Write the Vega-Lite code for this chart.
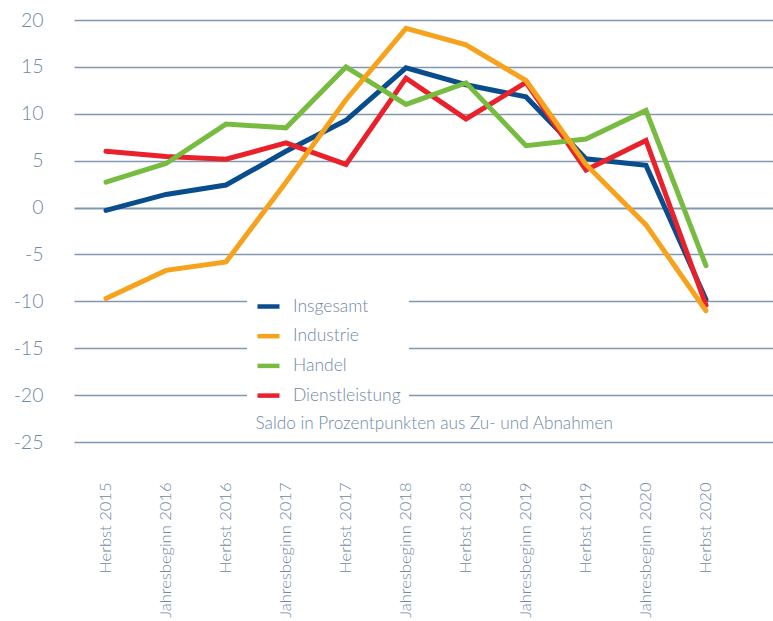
{
  "$schema": "https://vega.github.io/schema/vega-lite/v6.json",
  "width": 699,
  "height": 422,
  "autosize": {"type": "none"},
  "padding": {"left": 74, "top": 20, "right": 0, "bottom": 179},
  "background": "white",
  "config": {
    "font": "Lato",
    "view": {"stroke": null}
  },
  "data": {
    "values": [
      {"t": "Herbst 2015", "s": "Insgesamt", "v": -0.3},
      {"t": "Jahresbeginn 2016", "s": "Insgesamt", "v": 1.4},
      {"t": "Herbst 2016", "s": "Insgesamt", "v": 2.4},
      {"t": "Jahresbeginn 2017", "s": "Insgesamt", "v": 6.0},
      {"t": "Herbst 2017", "s": "Insgesamt", "v": 9.3},
      {"t": "Jahresbeginn 2018", "s": "Insgesamt", "v": 14.9},
      {"t": "Herbst 2018", "s": "Insgesamt", "v": 13.1},
      {"t": "Jahresbeginn 2019", "s": "Insgesamt", "v": 11.8},
      {"t": "Herbst 2019", "s": "Insgesamt", "v": 5.2},
      {"t": "Jahresbeginn 2020", "s": "Insgesamt", "v": 4.5},
      {"t": "Herbst 2020", "s": "Insgesamt", "v": -9.8},
      {"t": "Herbst 2015", "s": "Dienstleistung", "v": 6.0},
      {"t": "Jahresbeginn 2016", "s": "Dienstleistung", "v": 5.45},
      {"t": "Herbst 2016", "s": "Dienstleistung", "v": 5.15},
      {"t": "Jahresbeginn 2017", "s": "Dienstleistung", "v": 6.9},
      {"t": "Herbst 2017", "s": "Dienstleistung", "v": 4.6},
      {"t": "Jahresbeginn 2018", "s": "Dienstleistung", "v": 13.8},
      {"t": "Herbst 2018", "s": "Dienstleistung", "v": 9.45},
      {"t": "Jahresbeginn 2019", "s": "Dienstleistung", "v": 13.35},
      {"t": "Herbst 2019", "s": "Dienstleistung", "v": 4.0},
      {"t": "Jahresbeginn 2020", "s": "Dienstleistung", "v": 7.15},
      {"t": "Herbst 2020", "s": "Dienstleistung", "v": -10.4},
      {"t": "Herbst 2015", "s": "Handel", "v": 2.7},
      {"t": "Jahresbeginn 2016", "s": "Handel", "v": 4.7},
      {"t": "Herbst 2016", "s": "Handel", "v": 8.9},
      {"t": "Jahresbeginn 2017", "s": "Handel", "v": 8.5},
      {"t": "Herbst 2017", "s": "Handel", "v": 15.0},
      {"t": "Jahresbeginn 2018", "s": "Handel", "v": 11.0},
      {"t": "Herbst 2018", "s": "Handel", "v": 13.3},
      {"t": "Jahresbeginn 2019", "s": "Handel", "v": 6.6},
      {"t": "Herbst 2019", "s": "Handel", "v": 7.3},
      {"t": "Jahresbeginn 2020", "s": "Handel", "v": 10.35},
      {"t": "Herbst 2020", "s": "Handel", "v": -6.2},
      {"t": "Herbst 2015", "s": "Industrie", "v": -9.7},
      {"t": "Jahresbeginn 2016", "s": "Industrie", "v": -6.7},
      {"t": "Herbst 2016", "s": "Industrie", "v": -5.8},
      {"t": "Jahresbeginn 2017", "s": "Industrie", "v": 2.7},
      {"t": "Herbst 2017", "s": "Industrie", "v": 11.5},
      {"t": "Jahresbeginn 2018", "s": "Industrie", "v": 19.1},
      {"t": "Herbst 2018", "s": "Industrie", "v": 17.35},
      {"t": "Jahresbeginn 2019", "s": "Industrie", "v": 13.55},
      {"t": "Herbst 2019", "s": "Industrie", "v": 4.6},
      {"t": "Jahresbeginn 2020", "s": "Industrie", "v": -1.85},
      {"t": "Herbst 2020", "s": "Industrie", "v": -11.0}
    ]
  },
  "mark": {"type": "line", "strokeWidth": 5, "strokeCap": "round", "strokeJoin": "miter"},
  "encoding": {
    "x": {
      "field": "t",
      "type": "ordinal",
      "sort": null,
      "scale": {"type": "point", "padding": 0.825, "align": 0.323},
      "axis": {
        "title": "Saldo in Prozentpunkten aus Zu- und Abnahmen",
        "titleX": 181,
        "titleY": -19,
        "titleAlign": "left",
        "titleBaseline": "middle",
        "titleAngle": 0,
        "titleFontSize": 17.2,
        "titleFontWeight": 300,
        "titleColor": "#7089a5",
        "labelAngle": -90,
        "labelPadding": 40,
        "labelFontSize": 16.5,
        "labelFontWeight": 300,
        "labelColor": "#7089a5",
        "ticks": false,
        "domain": false,
        "grid": false
      }
    },
    "y": {
      "field": "v",
      "type": "quantitative",
      "scale": {"domain": [-25, 20], "nice": false, "zero": false},
      "axis": {
        "title": null,
        "values": [-25, -20, -15, -10, -5, 0, 5, 10, 15, 20],
        "labelFontSize": 19.5,
        "labelFontWeight": 300,
        "labelColor": "#7089a5",
        "labelPadding": 31,
        "labelExpr": "replace(datum.label, '−', '-')",
        "ticks": false,
        "domain": false,
        "grid": true,
        "gridColor": "#8198ae",
        "gridWidth": {"condition": {"test": "datum.value === 0", "value": 2.2}, "value": 1.4}
      }
    },
    "color": {
      "field": "s",
      "type": "nominal",
      "scale": {
        "domain": ["Insgesamt", "Industrie", "Handel", "Dienstleistung"],
        "range": ["#0a4d8c", "#f7a21d", "#77bc41", "#e8212b"]
      },
      "legend": {
        "title": null,
        "orient": "none",
        "legendX": 173,
        "legendY": 265,
        "padding": 8,
        "fillColor": "white",
        "symbolType": "stroke",
        "symbolSize": 484,
        "symbolStrokeWidth": 4.5,
        "labelFontSize": 17.5,
        "labelFontWeight": 300,
        "labelColor": "#7089a5",
        "labelOffset": 11,
        "rowPadding": 6.7
      }
    }
  }
}
